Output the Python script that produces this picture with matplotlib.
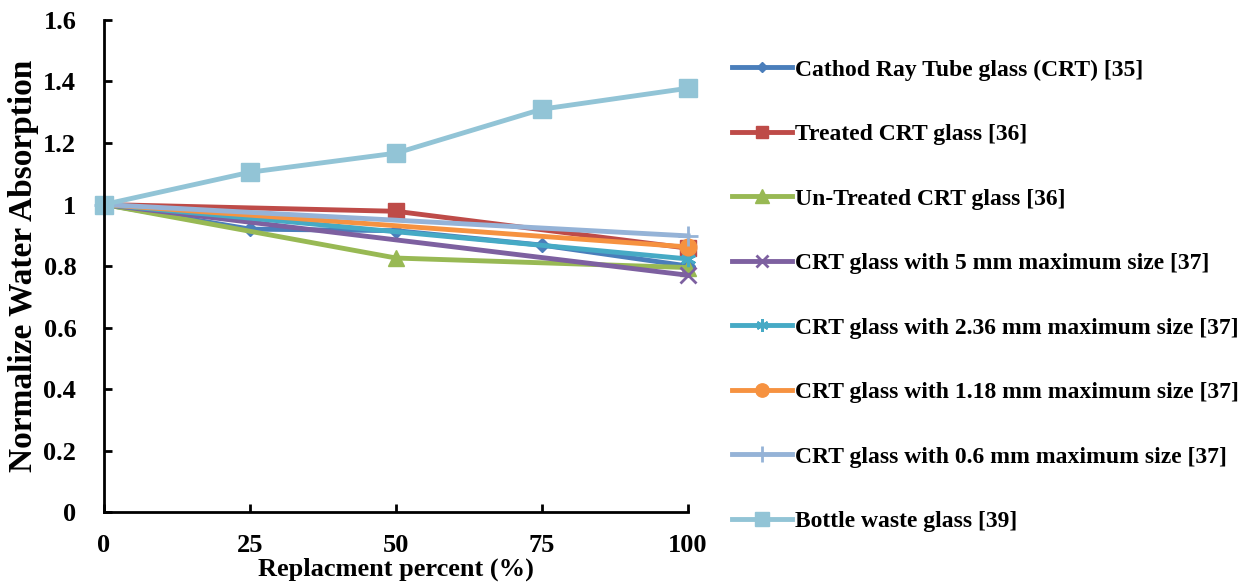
import matplotlib
matplotlib.use('Agg')
import matplotlib.pyplot as plt

plt.rcParams['font.family'] = 'Liberation Serif'
plt.rcParams['font.weight'] = 'bold'

# replacement percent
x_all = [0, 25, 50, 75, 100]
x_three = [0, 50, 100]
x_two = [0, 100]

crt35 = [1.0, 0.92, 0.915, 0.868, 0.80]
treated36 = [1.0, 0.978, 0.858]
untreated36 = [1.0, 0.826, 0.795]
crt_5mm = [1.0, 0.77]
crt_236mm = [1.0, 0.823]
crt_118mm = [1.0, 0.862]
crt_06mm = [1.0, 0.898]
bottle39 = [1.0, 1.105, 1.167, 1.31, 1.378]

labels = ['Cathod Ray Tube glass (CRT) [35]',
          'Treated CRT glass [36]',
          'Un-Treated CRT glass [36]',
          'CRT glass with 5 mm maximum size [37]',
          'CRT glass with 2.36 mm maximum size [37]',
          'CRT glass with 1.18 mm maximum size [37]',
          'CRT glass with 0.6 mm maximum size [37]',
          'Bottle waste glass [39]']

fig = plt.figure(figsize=(12.55, 5.86), dpi=100)
ax = fig.add_axes([0.0829, 0.126, 0.4654, 0.84])

lw = 3.5
ax.plot(x_all, crt35, color='#4A7EBB', lw=lw, marker='D', ms=7, label=labels[0])
ax.plot(x_three, treated36, color='#BE4B48', lw=lw, marker='s', ms=11, label=labels[1])
ax.plot(x_three, untreated36, color='#98B954', lw=lw, marker='^', ms=12, label=labels[2])
ax.plot(x_two, crt_5mm, color='#7D60A0', lw=lw, marker='x', ms=11, mew=2, label=labels[3])
ax.plot(x_two, crt_236mm, color='#46AAC5', lw=lw, marker=(6, 2, 0), ms=11, mew=2, label=labels[4])
ax.plot(x_two, crt_118mm, color='#F69240', lw=lw, marker='o', ms=12, label=labels[5])
ax.plot(x_two, crt_06mm, color='#95B3D7', lw=lw, marker='+', ms=14, mew=2, label=labels[6])
ax.plot(x_all, bottle39, color='#92C4D6', lw=lw, marker='s', ms=13, label=labels[7])

ax.set_xlim(0, 100)
ax.set_ylim(0, 1.6)
ax.set_xticks(x_all)
ax.set_xticklabels(['0', '25', '50', '75', '100'])
ax.set_yticks([0, 0.2, 0.4, 0.6, 0.8, 1.0, 1.2, 1.4, 1.6])
ax.set_yticklabels(['0', '0.2', '0.4', '0.6', '0.8', '1', '1.2', '1.4', '1.6'])
ax.margins(0)

for s in ['top', 'right']:
    ax.spines[s].set_visible(False)
for s in ['left', 'bottom']:
    ax.spines[s].set_linewidth(2)
    ax.spines[s].set_color('black')
ax.tick_params(direction='in', length=6, width=2, labelsize=19)
ax.tick_params(axis='x', pad=16)
ax.tick_params(axis='y', pad=20)
for lab in ax.get_xticklabels() + ax.get_yticklabels():
    lab.set_fontweight('bold')

ax.set_xlabel('Replacment percent (%)', fontsize=19, fontweight='bold', labelpad=0)
ax.set_ylabel('Normalize Water Absorption', fontsize=24, fontweight='bold', labelpad=3)

for line in ax.lines:
    line.set_clip_on(False)

leg = ax.legend(loc='upper left', bbox_to_anchor=(0.583, 0.899), bbox_transform=fig.transFigure,
                frameon=False, fontsize=17, labelspacing=1.82, handlelength=2.55,
                handletextpad=0.15, borderaxespad=0, borderpad=0)
for t in leg.get_texts():
    t.set_fontweight('bold')
for h in leg.legend_handles:
    h.set_markersize(h.get_markersize() * 0.8)

fig.savefig('out.png', dpi=100)
